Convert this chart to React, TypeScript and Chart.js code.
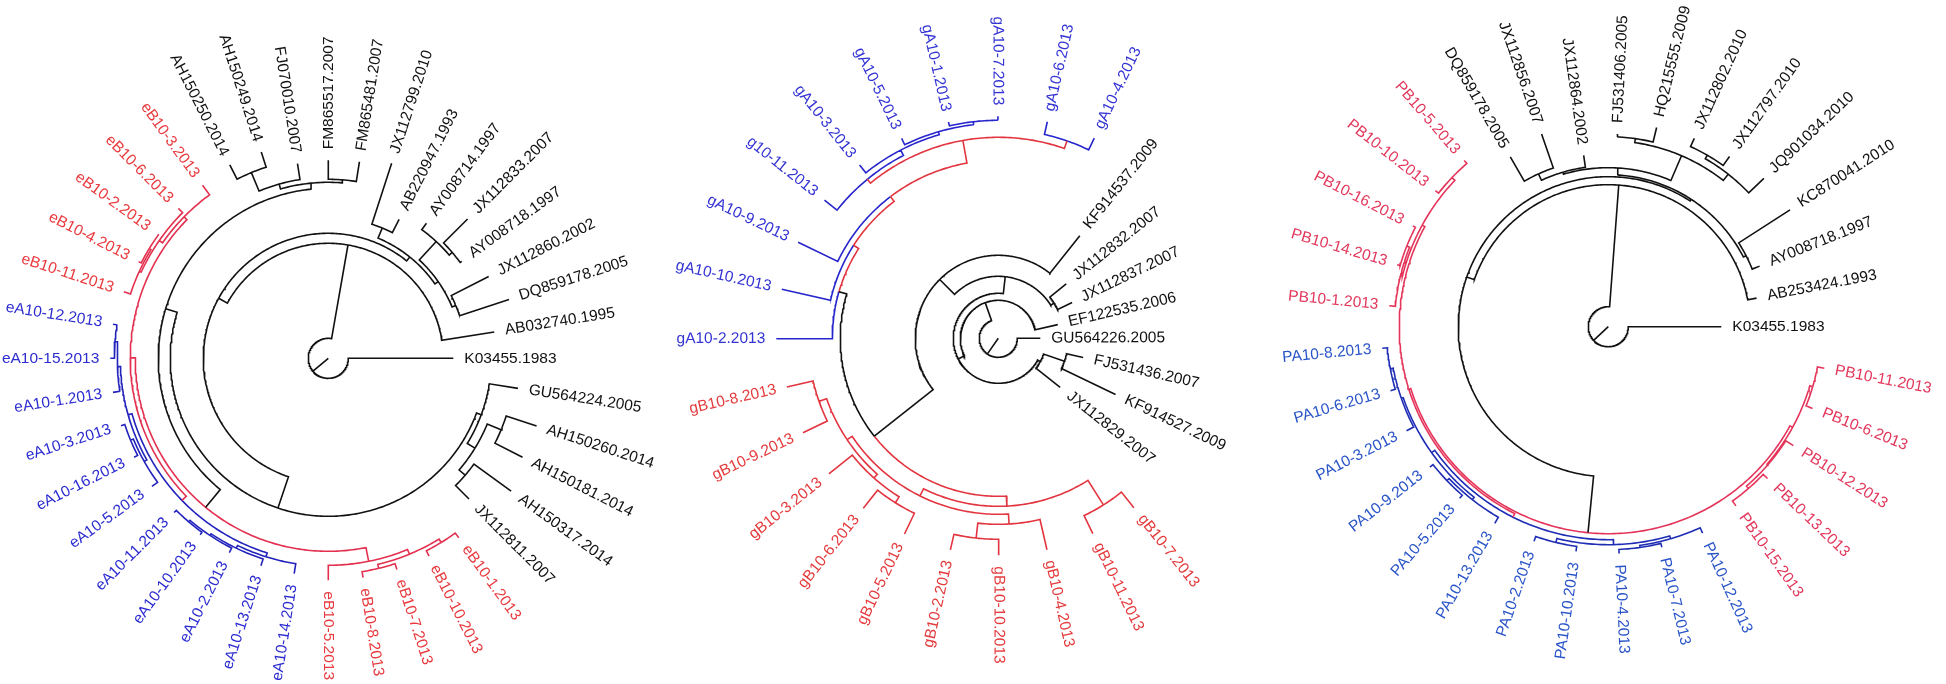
import React, { useEffect, useRef } from 'react';
import { Chart, registerables } from 'chart.js';

Chart.register(...registerables);

const W = 1946;
const H = 684;

// ---------------- Left tree (e-strains) ----------------
const leftLabels = [
  'K03455.1983', 'GU564224.2005', 'AH150260.2014', 'AH150181.2014', 'AH150317.2014', 'JX112811.2007',
  'eB10-1.2013', 'eB10-10.2013', 'eB10-7.2013', 'eB10-8.2013', 'eB10-5.2013',
  'eA10-14.2013', 'eA10-13.2013', 'eA10-2.2013', 'eA10-10.2013', 'eA10-11.2013', 'eA10-5.2013',
  'eA10-16.2013', 'eA10-3.2013', 'eA10-1.2013', 'eA10-15.2013', 'eA10-12.2013',
  'eB10-11.2013', 'eB10-4.2013', 'eB10-2.2013', 'eB10-6.2013', 'eB10-3.2013',
  'AH150250.2014', 'AH150249.2014', 'FJ070010.2007', 'FM865517.2007', 'FM865481.2007',
  'JX112799.2010', 'AB220947.1993', 'AY008714.1997', 'JX112833.2007', 'AY008718.1997',
  'JX112860.2002', 'DQ859178.2005', 'AB032740.1995',
];
const leftGroups = [
  'k', 'k', 'k', 'k', 'k', 'k',
  'b', 'b', 'b', 'b', 'b',
  'a', 'a', 'a', 'a', 'a', 'a', 'a', 'a', 'a', 'a', 'a',
  'b', 'b', 'b', 'b', 'b',
  'k', 'k', 'k', 'k', 'k', 'k', 'k', 'k', 'k', 'k', 'k', 'k', 'k',
];
const leftTipDepths = [
  125, 192, 219, 218, 226, 199,
  222, 222, 222, 222, 222,
  218, 218, 218, 218, 218, 218, 218, 218, 218, 218, 218,
  215, 213, 211, 212, 214,
  217, 217, 197, 198, 199, 205, 156, 167, 197, 165, 180, 190, 168,
];
// [first leaf, last leaf, node depth, branch group]
const leftClades: [number, number, number, string][] = [
  [0, 39, 20, 'k'], [1, 39, 115, 'k'], [1, 38, 125, 'k'], [1, 31, 158, 'k'],
  [1, 5, 163, 'k'], [2, 5, 172, 'k'], [2, 3, 187, 'k'], [4, 5, 180, 'k'],
  [6, 31, 170, 'k'], [6, 26, 193, 'k'],
  [6, 10, 207, 'b'], [6, 9, 212, 'b'], [6, 7, 216, 'b'], [8, 9, 216, 'b'],
  [11, 26, 198, 'b'], [11, 21, 204, 'b'],
  [11, 15, 208, 'a'], [12, 15, 211, 'a'], [13, 15, 213, 'a'], [14, 15, 215, 'a'],
  [16, 21, 208, 'a'], [16, 18, 211, 'a'], [17, 18, 214, 'a'], [19, 21, 211, 'a'], [20, 21, 214, 'a'],
  [22, 26, 202, 'b'], [22, 25, 206, 'b'], [22, 24, 208, 'b'], [23, 24, 210, 'b'],
  [27, 31, 176, 'k'], [27, 29, 181, 'k'], [27, 28, 201, 'k'], [30, 31, 179, 'k'],
  [32, 38, 130, 'k'], [32, 33, 141, 'k'], [34, 38, 134, 'k'], [34, 36, 159, 'k'],
  [35, 36, 163, 'k'], [37, 38, 138, 'k'],
];

// ---------------- Middle tree (g-strains) ----------------
const middleLabels = [
  'GU564226.2005', 'FJ531436.2007', 'KF914527.2009', 'JX112829.2007',
  'gB10-7.2013', 'gB10-11.2013', 'gB10-4.2013', 'gB10-10.2013', 'gB10-2.2013',
  'gB10-5.2013', 'gB10-6.2013', 'gB10-3.2013', 'gB10-9.2013', 'gB10-8.2013',
  'gA10-2.2013', 'gA10-10.2013', 'gA10-9.2013', 'g10-11.2013', 'gA10-3.2013',
  'gA10-5.2013', 'gA10-1.2013', 'gA10-7.2013', 'gA10-6.2013', 'gA10-4.2013',
  'KF914537.2009', 'JX112832.2007', 'JX112837.2007', 'EF122535.2006',
];
const middleGroups = [
  'k', 'k', 'k', 'k',
  'b', 'b', 'b', 'b', 'b', 'b', 'b', 'b', 'b', 'b',
  'a', 'a', 'a', 'a', 'a', 'a', 'a', 'a', 'a', 'a',
  'k', 'k', 'k', 'k',
];
const middleTipDepths = [
  42, 87, 130, 79,
  217, 217, 217, 217, 217, 217, 217, 217, 217, 217,
  222, 222, 222, 222, 222, 222, 222, 222, 222, 222,
  131, 87, 82, 61,
];
const middleClades: [number, number, number, string][] = [
  [0, 27, 19, 'k'], [1, 27, 38, 'k'], [1, 26, 45, 'k'], [1, 3, 48, 'k'], [1, 2, 70, 'k'],
  [4, 26, 62, 'k'], [4, 24, 83, 'k'], [25, 26, 66, 'k'], [4, 23, 158, 'k'],
  [4, 13, 168, 'b'], [4, 5, 197, 'b'], [6, 13, 176, 'b'], [6, 8, 186, 'b'], [7, 8, 201, 'b'],
  [9, 13, 182, 'b'], [9, 11, 187, 'b'], [9, 10, 194, 'b'], [12, 13, 190, 'b'],
  [14, 23, 166, 'k'], [15, 23, 172, 'b'], [16, 23, 178, 'b'], [17, 23, 201, 'b'],
  [17, 21, 206, 'b'], [18, 21, 212, 'a'], [19, 21, 215, 'a'], [20, 21, 218, 'a'], [22, 23, 209, 'b'],
];

// ---------------- Right tree (P-strains) ----------------
const rightLabels = [
  'K03455.1983', 'PB10-11.2013', 'PB10-6.2013', 'PB10-12.2013', 'PB10-13.2013', 'PB10-15.2013',
  'PA10-12.2013', 'PA10-7.2013', 'PA10-4.2013', 'PA10-10.2013', 'PA10-2.2013', 'PA10-13.2013',
  'PA10-5.2013', 'PA10-9.2013', 'PA10-3.2013', 'PA10-6.2013', 'PA10-8.2013',
  'PB10-1.2013', 'PB10-14.2013', 'PB10-16.2013', 'PB10-10.2013', 'PB10-5.2013',
  'DQ859178.2005', 'JX112856.2007', 'JX112864.2002', 'FJ531406.2005', 'HQ215555.2009',
  'JX112802.2010', 'JX112797.2010', 'JQ901034.2010', 'KC870041.2010', 'AY008718.1997', 'AB253424.1993',
];
const rightGroups = [
  'k', 'b', 'b', 'b', 'b', 'b',
  'a', 'a', 'a', 'a', 'a', 'a', 'a', 'a', 'a', 'a', 'a',
  'b', 'b', 'b', 'b', 'b',
  'k', 'k', 'k', 'k', 'k', 'k', 'k', 'k', 'k', 'k', 'k',
];
const rightTipDepths = [
  113, 220, 220, 220, 220, 220,
  227, 227, 227, 227, 227, 227, 227, 227, 227, 227, 227,
  220, 220, 220, 220, 220,
  196, 204, 173, 193, 205, 207, 209, 215, 216, 163, 151,
];
const rightClades: [number, number, number, string][] = [
  [0, 32, 20, 'k'], [1, 32, 142, 'k'], [1, 31, 150, 'k'], [1, 21, 207, 'k'],
  [1, 5, 210, 'b'], [1, 2, 213, 'b'], [3, 5, 211, 'b'], [4, 5, 214, 'b'],
  [6, 21, 209, 'b'], [6, 16, 213, 'b'],
  [6, 10, 218, 'a'], [6, 8, 221, 'a'], [7, 8, 223, 'a'], [9, 10, 222, 'a'],
  [11, 16, 217, 'a'], [11, 13, 220, 'a'], [12, 13, 223, 'a'], [14, 16, 219, 'a'], [15, 16, 222, 'a'],
  [17, 21, 212, 'b'], [17, 19, 214, 'b'], [18, 19, 217, 'b'], [20, 21, 216, 'b'],
  [22, 31, 152, 'k'], [22, 29, 159, 'k'], [22, 24, 161, 'k'], [22, 23, 168, 'k'],
  [25, 29, 186, 'k'], [25, 26, 190, 'k'], [27, 29, 194, 'k'], [27, 28, 198, 'k'], [30, 31, 155, 'k'],
];

// ---------------- Layout / style ----------------
type Tree = {
  labels: string[];
  groups: string[];
  tips: number[];
  clades: [number, number, number, string][];
  cx: number;
  cy: number;
  rot: number;
  line: Record<string, string>;
  text: Record<string, string>;
};

const trees: Tree[] = [
  {
    labels: leftLabels, groups: leftGroups, tips: leftTipDepths, clades: leftClades,
    cx: 328.3, cy: 358.3, rot: 0,
    line: { k: '#111111', a: '#2222bd', b: '#e3304f' },
    text: { k: '#111111', a: '#2c2cd0', b: '#e83a3e' },
  },
  {
    labels: middleLabels, groups: middleGroups, tips: middleTipDepths, clades: middleClades,
    cx: 998.3, cy: 338.3, rot: -0.1,
    line: { k: '#111111', a: '#2626cc', b: '#e2353f' },
    text: { k: '#111111', a: '#3434d4', b: '#e43a3c' },
  },
  {
    labels: rightLabels, groups: rightGroups, tips: rightTipDepths, clades: rightClades,
    cx: 1608.3, cy: 326.7, rot: 0,
    line: { k: '#111111', a: '#1f2db5', b: '#e5345a' },
    text: { k: '#111111', a: '#2a55c8', b: '#e2385c' },
  },
];

const LABEL_GAP = 11;
const FONT = '15.5px "Liberation Sans", Arial, sans-serif';

type Pt = { x: number; y: number };

function polar(t: Tree, a: number, r: number): Pt {
  const rad = (a * Math.PI) / 180;
  return { x: t.cx + r * Math.cos(rad), y: t.cy + r * Math.sin(rad) };
}

function leafAngle(t: Tree, i: number) {
  return t.rot + (i * 360) / t.labels.length;
}

function buildLines(t: Tree): Record<string, Pt[]> {
  const byKey = new Map<string, [number, number, number, string]>();
  t.clades.forEach((c) => byKey.set(c[0] + ',' + c[1], c));
  const lines: Record<string, Pt[]> = {};
  const push = (g: string, pts: Pt[]) => {
    if (!lines[g]) lines[g] = [];
    lines[g].push(...pts, { x: NaN, y: NaN });
  };
  const arc = (a1: number, a2: number, r: number) => {
    const k = Math.max(1, Math.ceil(Math.abs(a2 - a1) / 0.8));
    const pts: Pt[] = [];
    for (let i = 0; i <= k; i++) pts.push(polar(t, a1 + ((a2 - a1) * i) / k, r));
    return pts;
  };
  type NodeInfo = { angle: number; r: number; g: string };
  const visit = (lo: number, hi: number): NodeInfo => {
    const c = byKey.get(lo + ',' + hi)!;
    const kids: NodeInfo[] = [];
    let i = lo;
    while (i <= hi) {
      let best = -1;
      for (let j = hi; j > i; j--) {
        if (!(i === lo && j === hi) && byKey.has(i + ',' + j)) { best = j; break; }
      }
      if (best > i) { kids.push(visit(i, best)); i = best + 1; }
      else { kids.push({ angle: leafAngle(t, i), r: t.tips[i], g: t.groups[i] }); i++; }
    }
    const angle = (kids[0].angle + kids[kids.length - 1].angle) / 2;
    const r = c[2];
    kids.forEach((k) => {
      push(k.g, [...arc(angle, k.angle, r), polar(t, k.angle, k.r)]);
    });
    return { angle, r, g: c[3] };
  };
  const root = visit(0, t.labels.length - 1);
  push('k', [polar(t, root.angle, 0), polar(t, root.angle, root.r)]);
  return lines;
}

export default function App() {
  const ref = useRef<HTMLCanvasElement | null>(null);

  useEffect(() => {
    if (!ref.current) return;
    const datasets: any[] = [];
    trees.forEach((t) => {
      const lines = buildLines(t);
      ['k', 'b', 'a'].forEach((g) => {
        if (!lines[g]) return;
        datasets.push({
          type: 'scatter',
          data: lines[g],
          showLine: true,
          spanGaps: false,
          borderColor: t.line[g],
          borderWidth: 1.6,
          pointRadius: 0,
          pointHoverRadius: 0,
          fill: false,
          tension: 0,
        });
      });
    });

    const labelPlugin = {
      id: 'leafLabels',
      afterDatasetsDraw(chart: any) {
        const ctx = chart.ctx as CanvasRenderingContext2D;
        const xs = chart.scales.x;
        const ys = chart.scales.y;
        ctx.save();
        ctx.font = FONT;
        ctx.textBaseline = 'middle';
        trees.forEach((t) => {
          t.labels.forEach((lab, i) => {
            const a = leafAngle(t, i);
            const p0 = polar(t, a, t.tips[i] + LABEL_GAP);
            const p1 = polar(t, a, t.tips[i] + LABEL_GAP + 10);
            const x0 = xs.getPixelForValue(p0.x);
            const y0 = ys.getPixelForValue(p0.y);
            const x1 = xs.getPixelForValue(p1.x);
            const y1 = ys.getPixelForValue(p1.y);
            const ang = Math.atan2(y1 - y0, x1 - x0);
            const rightSide = Math.cos((a * Math.PI) / 180) > -1e-9;
            ctx.save();
            ctx.translate(x0, y0);
            ctx.fillStyle = t.text[t.groups[i]];
            if (rightSide) {
              ctx.rotate(ang);
              ctx.textAlign = 'left';
            } else {
              ctx.rotate(ang + Math.PI);
              ctx.textAlign = 'right';
            }
            ctx.fillText(lab, 0, 0);
            ctx.restore();
          });
        });
        ctx.restore();
      },
    };

    const bgPlugin = {
      id: 'bg',
      beforeDraw(chart: any) {
        const ctx = chart.ctx as CanvasRenderingContext2D;
        ctx.save();
        ctx.fillStyle = '#ffffff';
        ctx.fillRect(0, 0, chart.width, chart.height);
        ctx.restore();
      },
    };

    const chart = new Chart(ref.current, {
      type: 'scatter',
      data: { datasets },
      options: {
        animation: false,
        responsive: false,
        maintainAspectRatio: false,
        devicePixelRatio: 1,
        events: [],
        layout: { padding: 0 },
        plugins: { legend: { display: false }, tooltip: { enabled: false } },
        scales: {
          x: { type: 'linear', min: 0, max: W, display: false },
          y: { type: 'linear', min: 0, max: H, reverse: true, display: false },
        },
      },
      plugins: [bgPlugin, labelPlugin],
    } as any);
    return () => chart.destroy();
  }, []);

  return (
    <div style={{ position: 'absolute', left: 0, top: 0, width: W, height: H, background: '#fff' }}>
      <canvas ref={ref} width={W} height={H} style={{ display: 'block', width: W, height: H }} />
    </div>
  );
}
